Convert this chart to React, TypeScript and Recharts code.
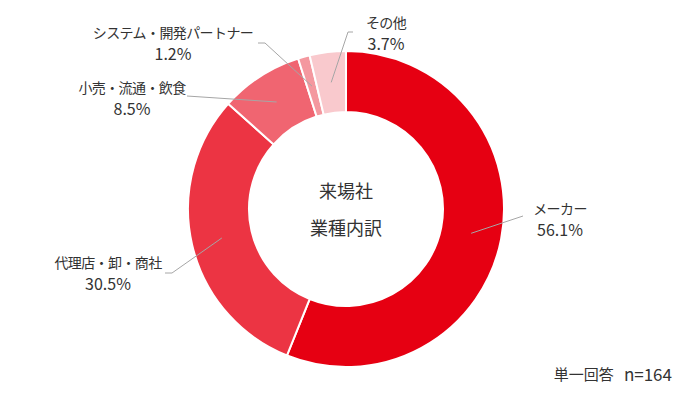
import React from "react";
import { PieChart, Pie, Cell } from "recharts";

const categories = ["メーカー", "代理店・卸・商社", "小売・流通・飲食", "システム・開発パートナー", "その他"];
const shares = [56.1, 30.5, 8.5, 1.2, 3.7];
const sliceColors = ["#E60012", "#EC3443", "#F06571", "#F4989F", "#F9C9CD"];
const centerTitle = ["来場社", "業種内訳"];
const footnoteLabel = "単一回答";
const footnoteCount = "n=164";

const data = categories.map((name, i) => ({ name, value: shares[i] }));

const W = 694;
const H = 398;
const CX = 346;
const CY = 209;
const TEXT = "#333333";
const FONT = "'Noto Sans CJK JP', 'Noto Sans', sans-serif";

// label layout: elbow points of leader lines and text centres
const LABEL_LAYOUT = [
  { pts: [[523, 216]], tx: 560, ty: 208 },
  { pts: [[172, 273], [165, 273]], tx: 108, ty: 262 },
  { pts: [[187, 96]], tx: 132, ty: 87 },
  { pts: [[265, 43], [258, 43]], tx: 173, ty: 32 },
  { pts: [[348, 32], [353, 32]], tx: 386, ty: 22 },
];

const RAD = Math.PI / 180;

const renderLabel = (props: any) => {
  const { cx, cy, midAngle, innerRadius, outerRadius, index } = props;
  const r = (innerRadius + outerRadius) / 2;
  const sx = cx + r * Math.cos(-midAngle * RAD);
  const sy = cy + r * Math.sin(-midAngle * RAD);
  const lay = LABEL_LAYOUT[index];
  const path = [`M${sx},${sy}`, ...lay.pts.map((p) => `L${p[0]},${p[1]}`)].join(" ");
  return (
    <g key={`lbl-${index}`}>
      <path d={path} stroke="#a6a6a6" strokeWidth={1} fill="none" />
      <text x={lay.tx} y={lay.ty} textAnchor="middle" dominantBaseline="central" fill={TEXT} fontSize={14} letterSpacing={-0.6} fontFamily={FONT}>
        {categories[index]}
      </text>
      <text x={lay.tx} y={lay.ty + 21} textAnchor="middle" dominantBaseline="central" fill={TEXT} fontSize={16} fontFamily={FONT}>
        {`${shares[index].toFixed(1)}%`}
      </text>
    </g>
  );
};

export default function App() {
  return (
    <div style={{ position: "absolute", left: 0, top: 0, width: W, height: H, background: "#fff" }}>
      <PieChart width={W} height={H} margin={{ top: 0, right: 0, bottom: 0, left: 0 }}>
        <Pie
          data={data}
          dataKey="value"
          nameKey="name"
          cx={CX}
          cy={CY}
          innerRadius={97}
          outerRadius={158}
          startAngle={90}
          endAngle={-270}
          stroke="#ffffff"
          strokeWidth={2}
          isAnimationActive={false}
          labelLine={false}
          label={renderLabel}
        >
          {data.map((d, i) => (
            <Cell key={d.name} fill={sliceColors[i]} />
          ))}
        </Pie>
        <text x={CX} y={190} textAnchor="middle" dominantBaseline="central" fill={TEXT} fontSize={18} fontFamily={FONT}>
          {centerTitle[0]}
        </text>
        <text x={CX} y={227} textAnchor="middle" dominantBaseline="central" fill={TEXT} fontSize={18} fontFamily={FONT}>
          {centerTitle[1]}
        </text>
        <text x={672} y={373} textAnchor="end" dominantBaseline="central" fill={TEXT} fontFamily={FONT}>
          <tspan fontSize={15}>{footnoteLabel}</tspan>
          <tspan fontSize={17} dx={10}>{footnoteCount}</tspan>
        </text>
      </PieChart>
    </div>
  );
}
